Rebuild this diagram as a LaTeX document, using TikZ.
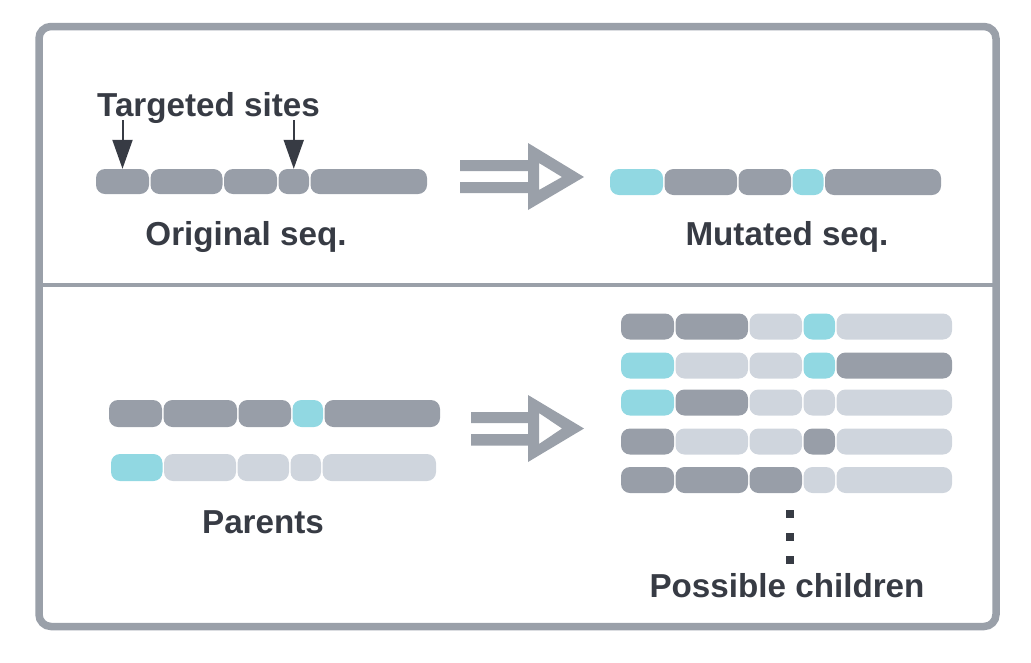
\documentclass[tikz,border=0pt]{standalone}
\usepackage{fontspec}
\setmainfont{Liberation Sans}
\usetikzlibrary{arrows.meta}
\definecolor{segD}{HTML}{989EA8}
\definecolor{segL}{HTML}{CFD5DD}
\definecolor{segC}{HTML}{91D8E2}
\definecolor{frameC}{HTML}{9AA0A9}
\definecolor{txtC}{HTML}{373B44}
\tikzset{
  seg/.style={rectangle, rounded corners=9pt, inner sep=0pt, draw=none},
  lbl/.style={text=txtC, font=\fontsize{33.2}{39}\selectfont\bfseries, inner sep=0pt},
  siteArrow/.style={draw=txtC, line width=2pt, -{Triangle[width=20pt,length=29pt]}},
}
\newcommand\segrow[3]{%
  \foreach \xa/\xb/\cl/\nm in {#3} {%
    \pgfmathsetmacro\ww{\xb-\xa}%
    \pgfmathsetmacro\cx{(\xa+\xb)/2}%
    \node[seg, fill=\cl, minimum width=\ww pt, minimum height=#2pt] (\nm) at (\cx,#1) {};
  }}
\begin{document}
\begin{tikzpicture}[x=1pt,y=-1pt]
\useasboundingbox (0,0) rectangle (1031,662);
% frame
\draw[frameC, line width=7.5pt, rounded corners=12pt] (39,26.5) rectangle (996,626.5);
\draw[frameC, line width=4pt] (39,285) -- (996,285);

% original sequence
\segrow{181.5}{25}{96/149/segD/o1, 150.5/222.5/segD/o2, 224/277/segD/o3, 278.5/309/segD/o4, 310.5/427/segD/o5}
\node[lbl, anchor=base west] (ts) at (97,116) {Targeted sites};
\coordinate (t1) at (122.5,120);
\coordinate (t2) at (293.75,120);
\draw[siteArrow] (t1) -- (o1.north);
\draw[siteArrow] (t2) -- (o4.north);
\node[lbl, anchor=base] (orig) at (246,245) {Original seq.};

% top big arrow
\fill[frameC, even odd rule] (528,143) -- (584,177) -- (528,210) -- cycle
  (539,163) -- (562,177) -- (539,190) -- cycle;
\fill[frameC] (460,160) rectangle (528,171) (460,182) rectangle (528,193);

% mutated sequence
\segrow{182}{26}{610/663/segC/m1, 664.5/737/segD/m2, 738.5/791/segD/m3, 792.5/823.5/segC/m4, 825/941/segD/m5}
\node[lbl, anchor=base] (mut) at (787,245) {Mutated seq.};

% parents
\segrow{413.5}{27}{109/162/segD/p1, 163.5/237/segD/p2, 238.5/291/segD/p3, 292.5/323/segC/p4, 324.5/440/segD/p5}
\segrow{467.5}{27}{111/162.5/segC/q1, 164/236/segL/q2, 237.5/289/segL/q3, 290.5/321/segL/q4, 322.5/436/segL/q5}
\node[lbl, anchor=base] (par) at (263,533) {Parents};

% bottom big arrow
\fill[frameC, even odd rule] (528,395) -- (584,428.5) -- (528,462) -- cycle
  (539,413) -- (562,428.5) -- (539,444) -- cycle;
\fill[frameC] (471,412) rectangle (528,423) (471,434) rectangle (528,445.5);

% children
\segrow{326.5}{26}{621/674/segD/a1, 675.5/748/segD/a2, 749.5/802/segL/a3, 803.5/835/segC/a4, 836.5/952/segL/a5}
\segrow{365.5}{26}{621/674/segC/b1, 675.5/748/segL/b2, 749.5/802/segL/b3, 803.5/835/segC/b4, 836.5/952/segD/b5}
\segrow{402.5}{26}{621/674/segC/c1, 675.5/748/segD/c2, 749.5/802/segL/c3, 803.5/835/segL/c4, 836.5/952/segL/c5}
\segrow{441.5}{26}{621/674/segD/d1, 675.5/748/segL/d2, 749.5/802/segL/d3, 803.5/835/segD/d4, 836.5/952/segL/d5}
\segrow{480}{26}{621/674/segD/e1, 675.5/748/segD/e2, 749.5/802/segD/e3, 803.5/835/segL/e4, 836.5/952/segL/e5}

% dots
\foreach \yy in {514,537,560} \fill[txtC] (786,\yy-4) rectangle (794,\yy+4);
\node[lbl, anchor=base] (kids) at (787,597) {Possible children};
\end{tikzpicture}
\end{document}
